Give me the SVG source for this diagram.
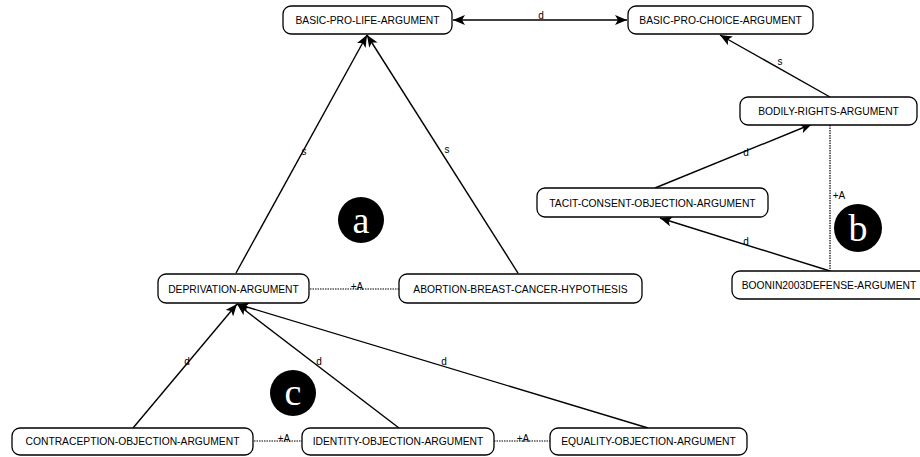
<svg xmlns="http://www.w3.org/2000/svg" width="920" height="457" viewBox="0 0 920 457">
<style>
.box{fill:#fff;stroke:#000;stroke-width:1.3}
.nt{font-family:"Liberation Sans",Arial,sans-serif;font-size:10.3px;fill:#000;text-anchor:middle;dominant-baseline:central}
.e{stroke:#000;stroke-width:1.4;fill:none}
.dot{stroke:#000;stroke-width:1.2;stroke-dasharray:1.5 1;fill:none}
.el{font-family:"Liberation Sans",Arial,sans-serif;font-size:10px;fill:#000;text-anchor:middle}
.circ{fill:#000}
.cl{font-family:"Liberation Serif","Times New Roman",serif;font-size:38px;fill:#fff;text-anchor:middle}
</style>
<defs>
<marker id="ah" viewBox="0 0 12 10" refX="12" refY="5" markerWidth="12" markerHeight="10" markerUnits="userSpaceOnUse" orient="auto-start-reverse">
<path d="M0,0 L12,5 L0,10 L3,5 Z" fill="#000"/>
</marker>
</defs>
<rect width="920" height="457" fill="#fff"/>
<g id="connectors">
<line class="e" x1="453" y1="20" x2="627" y2="20" marker-start="url(#ah)" marker-end="url(#ah)"/>
<text class="el" x="541" y="19">d</text>
<line class="e" x1="830" y1="97" x2="720" y2="35" marker-end="url(#ah)"/>
<text class="el" x="780" y="65">s</text>
<line class="e" x1="236" y1="273" x2="367" y2="35" marker-end="url(#ah)"/>
<text class="el" x="304" y="155">s</text>
<line class="e" x1="518" y1="273" x2="367" y2="35" marker-end="url(#ah)"/>
<text class="el" x="447" y="153">s</text>
<line class="e" x1="655" y1="188" x2="812" y2="124" marker-end="url(#ah)"/>
<text class="el" x="746" y="156">d</text>
<line class="e" x1="830" y1="271" x2="660" y2="218" marker-end="url(#ah)"/>
<text class="el" x="746" y="245">d</text>
<line class="dot" x1="830" y1="125" x2="830" y2="271"/>
<text class="el" x="839" y="199">+A</text>
<line class="dot" x1="310" y1="289" x2="399" y2="289"/>
<text class="el" x="357" y="290">+A</text>
<line class="e" x1="133" y1="428" x2="237" y2="304" marker-end="url(#ah)"/>
<text class="el" x="187" y="365">d</text>
<line class="e" x1="399" y1="428" x2="237" y2="304" marker-end="url(#ah)"/>
<text class="el" x="319" y="365">d</text>
<line class="e" x1="648" y1="428" x2="237" y2="304" marker-end="url(#ah)"/>
<text class="el" x="444" y="365">d</text>
<line class="dot" x1="254" y1="441" x2="302" y2="441"/>
<text class="el" x="284" y="442">+A</text>
<line class="dot" x1="494" y1="441" x2="550" y2="441"/>
<text class="el" x="523" y="442">+A</text>
</g>
<g id="n-basic-pro-life"><rect class="box" x="283" y="6" width="169" height="28" rx="8"/><text class="nt" x="367.5" y="20">BASIC-PRO-LIFE-ARGUMENT</text></g>
<g id="n-basic-pro-choice"><rect class="box" x="628" y="6" width="185" height="28" rx="8"/><text class="nt" x="720.5" y="20">BASIC-PRO-CHOICE-ARGUMENT</text></g>
<g id="n-bodily-rights"><rect class="box" x="740" y="97" width="177" height="28" rx="8"/><text class="nt" x="828.5" y="111">BODILY-RIGHTS-ARGUMENT</text></g>
<g id="n-tacit-consent"><rect class="box" x="537" y="188" width="231" height="29" rx="8"/><text class="nt" x="652.5" y="203">TACIT-CONSENT-OBJECTION-ARGUMENT</text></g>
<g id="n-boonin"><rect class="box" x="732" y="271" width="196" height="28" rx="8"/><text class="nt" x="829" y="285">BOONIN2003DEFENSE-ARGUMENT</text></g>
<g id="n-deprivation"><rect class="box" x="158" y="274" width="151" height="29" rx="8"/><text class="nt" x="233.5" y="289">DEPRIVATION-ARGUMENT</text></g>
<g id="n-abortion-breast"><rect class="box" x="399" y="274" width="243" height="29" rx="8"/><text class="nt" x="520.5" y="289">ABORTION-BREAST-CANCER-HYPOTHESIS</text></g>
<g id="n-contraception"><rect class="box" x="12" y="428" width="241" height="27" rx="8"/><text class="nt" x="132.5" y="441.5">CONTRACEPTION-OBJECTION-ARGUMENT</text></g>
<g id="n-identity"><rect class="box" x="302" y="428" width="192" height="27" rx="8"/><text class="nt" x="398" y="441.5">IDENTITY-OBJECTION-ARGUMENT</text></g>
<g id="n-equality"><rect class="box" x="550" y="428" width="197" height="27" rx="8"/><text class="nt" x="648.5" y="441.5">EQUALITY-OBJECTION-ARGUMENT</text></g>
<g id="label-a"><circle class="circ" cx="361" cy="220" r="23"/><text class="cl" x="361" y="233">a</text></g>
<g id="label-b"><circle class="circ" cx="858" cy="228" r="24"/><text class="cl" x="858" y="241">b</text></g>
<g id="label-c"><circle class="circ" cx="293" cy="393" r="23"/><text class="cl" x="293" y="405">c</text></g>
</svg>
